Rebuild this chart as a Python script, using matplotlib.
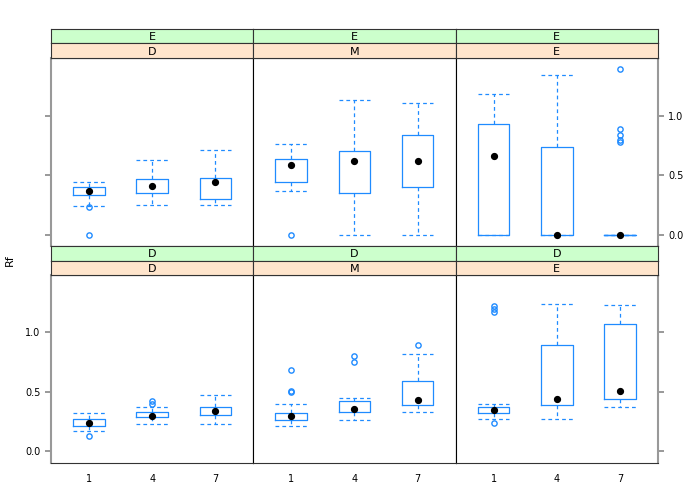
import numpy as np
import matplotlib
matplotlib.use("Agg")
import matplotlib.pyplot as plt

# panel labels: outer strip (green) and inner strip (peach)
outer = ["E", "E", "E", "D", "D", "D"]
inner = ["D", "M", "E", "D", "M", "E"]
groups = ["1", "4", "7"]

# box statistics per panel, per group
whislo = [[0.24, 0.25, 0.25], [0.37, 0.0, 0.0], [0.0, 0.0, 0.0],
          [0.17, 0.23, 0.23], [0.21, 0.26, 0.33], [0.27, 0.27, 0.37]]
q1 = [[0.33, 0.35, 0.30], [0.44, 0.35, 0.40], [0.0, 0.0, 0.0],
      [0.21, 0.29, 0.31], [0.26, 0.33, 0.39], [0.32, 0.39, 0.44]]
med = [[0.37, 0.41, 0.44], [0.59, 0.62, 0.62], [0.66, 0.0, 0.0],
       [0.24, 0.30, 0.34], [0.30, 0.36, 0.43], [0.35, 0.44, 0.51]]
q3 = [[0.40, 0.47, 0.48], [0.64, 0.70, 0.84], [0.93, 0.74, 0.0],
      [0.27, 0.33, 0.37], [0.32, 0.42, 0.59], [0.37, 0.89, 1.07]]
whishi = [[0.44, 0.63, 0.71], [0.76, 1.13, 1.11], [1.18, 1.34, 0.0],
          [0.32, 0.37, 0.47], [0.40, 0.45, 0.82], [0.40, 1.24, 1.23]]
fliers = [[[0.23, 0.0], [], []],
          [[0.0], [], []],
          [[], [], [1.39, 0.89, 0.84, 0.80, 0.78]],
          [[0.13], [0.42, 0.40], []],
          [[0.68, 0.51, 0.50], [0.80, 0.75], [0.89]],
          [[1.22, 1.20, 1.17, 0.24], [], []]]

blue = "#1f8bff"
W, H = 700, 500
fig = plt.figure(figsize=(7, 5), dpi=100)

lefts = [51, 253.3, 455.7]
pw = 202.3
rows = [(58.3, 246.3, [(29.3, 43.3), (43.3, 58.3)]),
        (275.0, 463.0, [(246.3, 260.7), (260.7, 275.0)])]

for p in range(6):
    r, c = divmod(p, 3)
    top, bot, strips = rows[r]
    ax = fig.add_axes([lefts[c] / W, 1 - bot / H, pw / W, (bot - top) / H])
    stats = []
    for g in range(3):
        stats.append(dict(med=med[p][g], q1=q1[p][g], q3=q3[p][g],
                          whislo=whislo[p][g], whishi=whishi[p][g],
                          fliers=fliers[p][g]))
    ax.bxp(stats, positions=[1, 2, 3], widths=0.5, capwidths=0.5,
           boxprops=dict(color=blue, lw=0.9),
           whiskerprops=dict(color=blue, lw=0.9, ls=(0, (3, 2.5))),
           capprops=dict(color=blue, lw=0.9, ls=(0, (3, 2.5))),
           medianprops=dict(lw=0),
           flierprops=dict(marker="o", markerfacecolor="none",
                           markeredgecolor=blue, markersize=3.8, mew=1.0))
    ax.plot([1, 2, 3], med[p], "o", color="black", markersize=4.2, zorder=5)
    ax.set_xlim(0.4, 3.6)
    ax.set_ylim(-0.097, 1.482)
    ax.set_yticks([0.0, 0.5, 1.0])
    ax.set_xticks([1, 2, 3])
    for s in ax.spines.values():
        s.set_color("black")
        s.set_linewidth(0.8)
    ax.tick_params(axis="both", labelsize=7, color="#888888", length=4, width=1.2)
    if r == 0:
        ax.tick_params(axis="x", bottom=False, labelbottom=False)
    else:
        ax.tick_params(axis="x", length=0, pad=8)
        ax.set_xticklabels(groups)
    if c == 0:
        ax.spines["left"].set_color("#999999")
        ax.spines["left"].set_linewidth(1.5)
        ax.tick_params(axis="y", left=True, labelleft=(r == 1))
    elif c == 2:
        ax.spines["right"].set_color("#999999")
        ax.spines["right"].set_linewidth(1.5)
        ax.tick_params(axis="y", left=False, labelleft=False,
                       right=True, labelright=(r == 0))
    else:
        ax.tick_params(axis="y", left=False, labelleft=False)
    if r == 1:
        ax.spines["bottom"].set_color("#333333")

    # strips
    for (st, sb), lab, col in zip(strips, [outer[p], inner[p]], ["#ccffcc", "#ffe5cc"]):
        sax = fig.add_axes([lefts[c] / W, 1 - sb / H, pw / W, (sb - st) / H])
        sax.set_facecolor(col)
        sax.set_xticks([])
        sax.set_yticks([])
        for s in sax.spines.values():
            s.set_linewidth(0.8)
            s.set_color("#333333")
        sax.text(0.5, 0.45, lab, ha="center", va="center", fontsize=8,
                 transform=sax.transAxes)

fig.text(10 / W, 1 - 260 / H, "Rf", rotation=90, ha="center", va="center", fontsize=8)
fig.savefig("out.png", dpi=100)
